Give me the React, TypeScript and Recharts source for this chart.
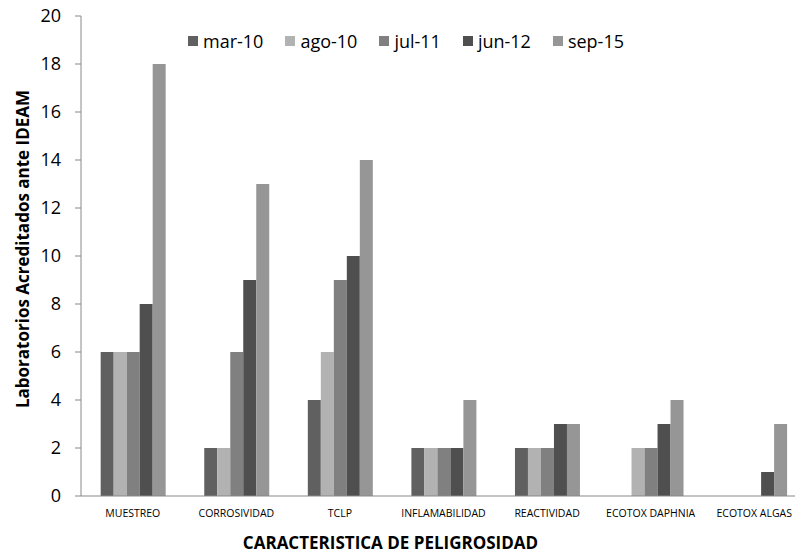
import React from "react";
import { BarChart, Bar, XAxis, YAxis, Label } from "recharts";

const categories = ["MUESTREO", "CORROSIVIDAD", "TCLP", "INFLAMABILIDAD", "REACTIVIDAD", "ECOTOX DAPHNIA", "ECOTOX ALGAS"];
const seriesNames = ["mar-10", "ago-10", "jul-11", "jun-12", "sep-15"];
const mar10 = [6, 2, 4, 2, 2, 0, 0];
const ago10 = [6, 2, 6, 2, 2, 2, 0];
const jul11 = [6, 6, 9, 2, 2, 2, 0];
const jun12 = [8, 9, 10, 2, 3, 3, 1];
const sep15 = [18, 13, 14, 4, 3, 4, 3];
const yTicks = [0, 2, 4, 6, 8, 10, 12, 14, 16, 18, 20];
const colors = ["#606060", "#b2b2b2", "#808080", "#4f4f4f", "#969696"];

const seriesValues = [mar10, ago10, jul11, jun12, sep15];
const data = categories.map((c, i) => {
  const row: Record<string, string | number> = { name: c };
  seriesNames.forEach((s, k) => {
    row[s] = seriesValues[k][i];
  });
  return row;
});

const FONT = "'Open Sans', 'Noto Sans', sans-serif";

const LegendContent = () => (
  <div style={{ display: "flex", alignItems: "center", fontFamily: FONT, fontSize: 18, color: "#000" }}>
    {seriesNames.map((s, k) => (
      <div key={s} style={{ display: "flex", alignItems: "center", marginRight: 22 }}>
        <div style={{ width: 10, height: 10, background: colors[k], marginRight: 5 }} />
        <span>{s}</span>
      </div>
    ))}
  </div>
);

export default function App() {
  return (
    <div style={{ position: "absolute", left: 0, top: 0, width: 795, height: 555, overflow: "hidden", background: "#fff" }}>
      <BarChart
        width={830}
        height={555}
        data={data}
        margin={{ top: 16, right: 24, bottom: 0, left: 0 }}
        barCategoryGap="19%"
        barGap={0}
      >
        <XAxis
          dataKey="name"
          tickLine={false}
          axisLine={{ stroke: "#898989", strokeWidth: 1 }}
          tick={{ fontFamily: FONT, fontSize: 10.5, fill: "#000" }}
          height={59}
          interval={0}
          tickMargin={8}
        >
          <Label
            value="CARACTERISTICA DE PELIGROSIDAD"
            position="center"
            dx={-53}
            dy={17}
            style={{ fontFamily: FONT, fontSize: 17, fontWeight: 700, fill: "#000" }}
          />
        </XAxis>
        <YAxis
          domain={[0, 20]}
          ticks={yTicks}
          width={81}
          tickSize={6}
          tickLine={{ stroke: "#898989" }}
          axisLine={{ stroke: "#898989", strokeWidth: 1 }}
          tick={{ fontFamily: FONT, fontSize: 18, fill: "#000" }}
          tickMargin={14}
          interval={0}
        >
          <Label
            value="Laboratorios Acreditados ante IDEAM"
            angle={-90}
            position="center"
            dx={-18}
            dy={-7}
            style={{ fontFamily: FONT, fontSize: 17, fontWeight: 700, fill: "#000", textAnchor: "middle" }}
          />
        </YAxis>
        {seriesNames.map((s, k) => (
          <Bar key={s} dataKey={s} fill={colors[k]} isAnimationActive={false} />
        ))}
      </BarChart>
      <div style={{ position: "absolute", left: 188, top: 29 }}>
        <LegendContent />
      </div>
    </div>
  );
}
